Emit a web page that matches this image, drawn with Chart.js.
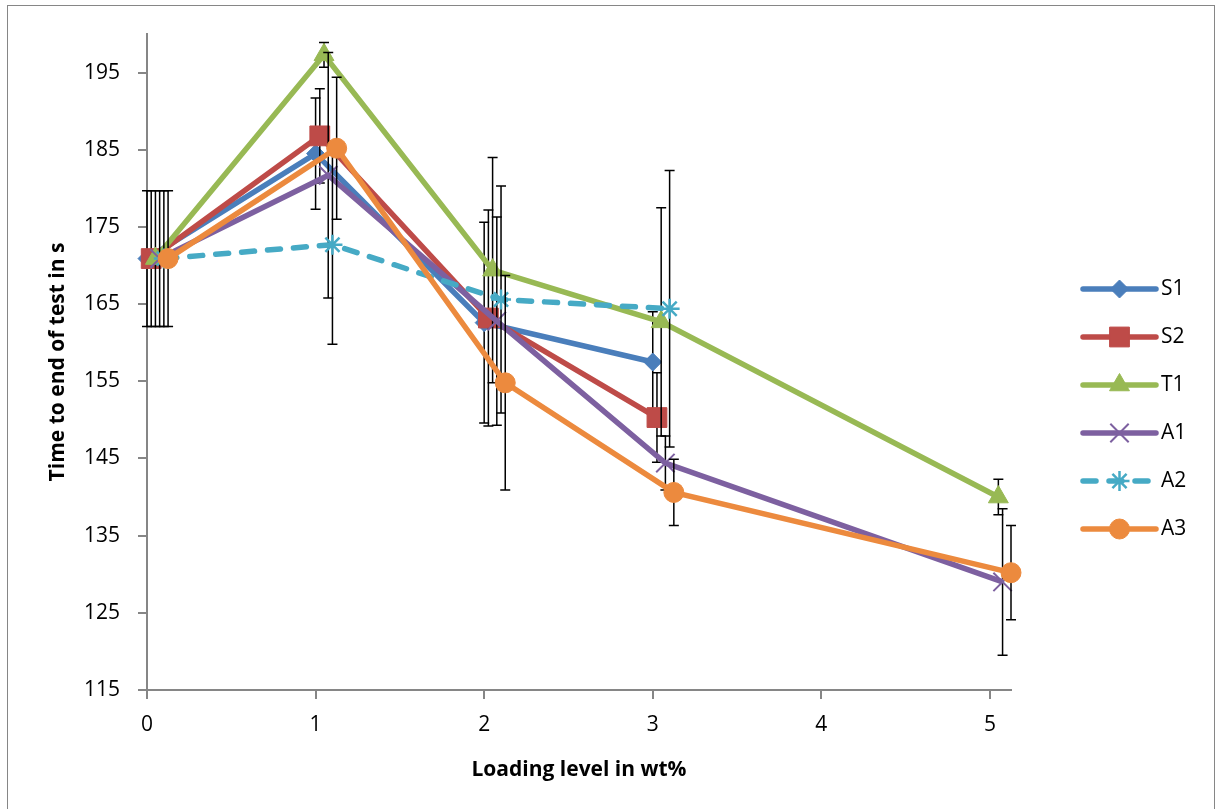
<!DOCTYPE html>
<html>
<head>
<meta charset="utf-8">
<title>Time to end of test</title>
<script src="https://cdn.jsdelivr.net/npm/chart.js@4.4.1/dist/chart.umd.min.js"></script>
<style>
  body { margin: 0; background: #fff; }
  canvas { display: block; }
</style>
</head>
<body>
<canvas id="grafica" width="1216" height="809"></canvas>
<script>
// Datos (cada serie va corrida un poco en x, como en el original)
const ticksX = [0, 1, 2, 3, 4, 5]
const ticksY = [115, 125, 135, 145, 155, 165, 175, 185, 195]

const xS1 = [0, 1, 2, 3]
const yS1 = [170.9, 184.5, 162.6, 157.5]
const errS1 = [8.8, 7.2, 13.0, 6.5]

const xS2 = [0.025, 1.025, 2.025, 3.025]
const yS2 = [170.9, 186.8, 163.2, 150.3]
const errS2 = [8.8, 6.1, 14.0, 5.8]

const xT1 = [0.05, 1.05, 2.05, 3.05, 5.05]
const yT1 = [170.9, 197.3, 169.4, 162.7, 140.0]
const errT1 = [8.8, 1.6, 14.6, 14.8, 2.3]

const xA1 = [0.075, 1.075, 2.075, 3.075, 5.075]
const yA1 = [170.9, 181.7, 162.8, 144.4, 129.0]
const errA1 = [8.8, 15.9, 13.5, 3.5, 9.5]

const xA2 = [0.1, 1.1, 2.1, 3.1]
const yA2 = [170.9, 172.7, 165.6, 164.4]
const errA2 = [8.8, 12.9, 14.7, 17.9]

const xA3 = [0.125, 1.125, 2.125, 3.125, 5.125]
const yA3 = [170.9, 185.2, 154.8, 140.6, 130.2]
const errA3 = [8.8, 9.2, 13.9, 4.3, 6.1]

const fuente = "'Open Sans', 'Liberation Sans', sans-serif"
const gris = "#868686"

function puntos(xs, ys){
    return xs.map((x, i) => ({ x: x, y: ys[i] }))
}

function serie(nombre, xs, ys, errores, color, estilo, radio, bordePunto, orden){
    return {
        label: nombre,
        data: puntos(xs, ys),
        errores: errores,
        borderColor: color,
        backgroundColor: color,
        borderWidth: 5.5,
        pointStyle: estilo,
        pointRadius: radio,
        pointHoverRadius: radio,
        pointBackgroundColor: color,
        pointBorderColor: color,
        pointBorderWidth: bordePunto,
        tension: 0,
        clip: false,
        order: orden
    }
}

const datasets = [
    serie("S1", xS1, yS1, errS1, "#4A7EBB", "rectRot", 9, 1, 5),
    serie("S2", xS2, yS2, errS2, "#BE4B48", "rect", 14, 1, 4),
    serie("T1", xT1, yT1, errT1, "#98B954", "triangle", 11.5, 1, 3),
    serie("A1", xA1, yA1, errA1, "#7D60A0", "crossRot", 13, 2, 2),
    serie("A2", xA2, yA2, errA2, "#46AAC5", "star", 10, 2.5, 1),
    serie("A3", xA3, yA3, errA3, "#EC8A3E", "circle", 10, 1, 0)
]
// la serie A2 va punteada
datasets[4].borderDash = [13, 13]
datasets[4].borderCapStyle = "round"

// Barras de error: se dibujan justo antes de cada serie
const barrasError = {
    id: "barrasError",
    beforeDatasetDraw(chart, args){
        const ds = chart.data.datasets[args.index]
        if (!ds.errores) return
        const ctx = chart.ctx
        const escalaY = chart.scales.y
        ctx.save()
        ctx.strokeStyle = "#000"
        ctx.lineWidth = 1.5
        args.meta.data.forEach((punto, i) => {
            const valor = ds.data[i].y
            const arriba = escalaY.getPixelForValue(valor + ds.errores[i])
            const abajo = escalaY.getPixelForValue(valor - ds.errores[i])
            const x = punto.x
            ctx.beginPath()
            ctx.moveTo(x, arriba)
            ctx.lineTo(x, abajo)
            ctx.moveTo(x - 5, arriba)
            ctx.lineTo(x + 5, arriba)
            ctx.moveTo(x - 5, abajo)
            ctx.lineTo(x + 5, abajo)
            ctx.stroke()
        })
        ctx.restore()
    }
}

// Marco gris alrededor y leyenda a la derecha
const marcoYLeyenda = {
    id: "marcoYLeyenda",
    beforeDraw(chart){
        const ctx = chart.ctx
        ctx.save()
        ctx.strokeStyle = gris
        ctx.lineWidth = 1
        ctx.strokeRect(7.5, 5.5, 1207, 900)
        ctx.restore()
    },
    afterDraw(chart){
        const ctx = chart.ctx
        const x0 = chart.chartArea.right + 72
        const largo = 73
        const y0 = 289
        const paso = 48
        chart.data.datasets.forEach((ds, i) => {
            const y = y0 + i * paso
            ctx.save()
            ctx.strokeStyle = ds.borderColor
            ctx.lineWidth = ds.borderWidth
            ctx.lineCap = "round"
            ctx.setLineDash(ds.borderDash || [])
            ctx.beginPath()
            ctx.moveTo(x0, y)
            ctx.lineTo(x0 + largo, y)
            ctx.stroke()
            ctx.setLineDash([])
            ctx.lineCap = "butt"
            ctx.fillStyle = ds.pointBackgroundColor
            ctx.strokeStyle = ds.pointBorderColor
            ctx.lineWidth = ds.pointBorderWidth
            Chart.helpers.drawPoint(ctx, {
                pointStyle: ds.pointStyle,
                radius: ds.pointRadius,
                rotation: 0,
                borderWidth: ds.pointBorderWidth
            }, x0 + largo / 2, y)
            ctx.fillStyle = "#000"
            ctx.font = "21px " + fuente
            ctx.textBaseline = "middle"
            ctx.fillText(ds.label, x0 + largo + 5, y)
            ctx.restore()
        })
    }
}

const config = {
    type: "line",
    data: { datasets: datasets },
    plugins: [barrasError, marcoYLeyenda],
    options: {
        responsive: false,
        animation: false,
        devicePixelRatio: 1,
        layout: { padding: { top: 34, right: 205, left: 0, bottom: 0 } },
        plugins: {
            legend: { display: false },
            tooltip: { enabled: false }
        },
        scales: {
            x: {
                type: "linear",
                min: 0,
                max: 5.125,
                afterBuildTicks: (escala) => { escala.ticks = ticksX.map(v => ({ value: v })) },
                afterFit: (escala) => { escala.height = 119 },
                grid: { drawOnChartArea: false, drawTicks: true, tickLength: 9, color: gris, lineWidth: 2 },
                border: { color: gris, width: 2 },
                ticks: { color: "#000", font: { family: fuente, size: 21 }, padding: 13, maxRotation: 0 },
                title: {
                    display: true,
                    text: "Loading level in wt%",
                    color: "#000",
                    font: { family: fuente, size: 21, weight: "bold" },
                    padding: { top: 0, bottom: 26 }
                }
            },
            y: {
                type: "linear",
                min: 115,
                max: 200,
                afterBuildTicks: (escala) => { escala.ticks = ticksY.map(v => ({ value: v })) },
                afterFit: (escala) => { escala.width = 147 },
                grid: { drawOnChartArea: false, drawTicks: true, tickLength: 9, color: gris, lineWidth: 2 },
                border: { color: gris, width: 2 },
                ticks: { color: "#000", font: { family: fuente, size: 21 }, padding: 18 },
                title: {
                    display: true,
                    text: "Time to end of test in s",
                    color: "#000",
                    font: { family: fuente, size: 21, weight: "bold" },
                    padding: { top: 45, bottom: 0 }
                }
            }
        }
    }
}

new Chart(document.getElementById("grafica"), config)
</script>
</body>
</html>
